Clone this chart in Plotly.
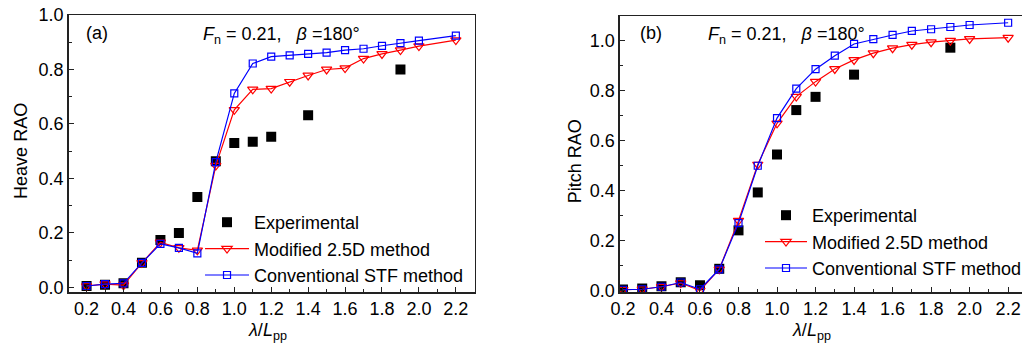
import plotly.graph_objects as go

W, H = 1027, 343

# ---------------- data ----------------
x_exp = [0.2, 0.3, 0.4, 0.5, 0.6, 0.7, 0.8, 0.9, 1.0, 1.1, 1.2, 1.4, 1.9]
heave_exp = [0.005, 0.01, 0.015, 0.09, 0.174, 0.20, 0.332, 0.463, 0.53, 0.535, 0.553, 0.632, 0.80]
pitch_exp = [0.004, 0.008, 0.017, 0.033, 0.021, 0.087, 0.241, 0.393, 0.545, 0.723, 0.776, 0.865, 0.973]

x_calc = [0.2, 0.3, 0.4, 0.5, 0.6, 0.7, 0.8, 0.9, 1.0, 1.1, 1.2, 1.3, 1.4, 1.5, 1.6, 1.7, 1.8, 1.9, 2.0, 2.2]
heave_mod = [0.005, 0.012, 0.008, 0.09, 0.165, 0.145, 0.136, 0.447, 0.652, 0.727, 0.73, 0.755, 0.778,
             0.80, 0.805, 0.84, 0.857, 0.871, 0.886, 0.908]
heave_stf = [0.005, 0.012, 0.015, 0.09, 0.16, 0.145, 0.125, 0.46, 0.712, 0.822, 0.847, 0.852, 0.857,
             0.862, 0.871, 0.876, 0.887, 0.897, 0.906, 0.924]
pitch_mod = [0.003, 0.005, 0.015, 0.03, 0.0, 0.085, 0.28, 0.505, 0.67, 0.777, 0.837, 0.888, 0.924,
             0.951, 0.971, 0.985, 0.995, 1.001, 1.008, 1.013]
pitch_stf = [0.003, 0.005, 0.015, 0.032, 0.005, 0.085, 0.27, 0.50, 0.691, 0.809, 0.887, 0.941, 0.988,
             1.007, 1.024, 1.04, 1.047, 1.056, 1.064, 1.073]

names = ["Experimental", "Modified 2.5D method", "Conventional STF method"]
x_ticks = [0.2, 0.4, 0.6, 0.8, 1.0, 1.2, 1.4, 1.6, 1.8, 2.0, 2.2]
y_ticks = [0.0, 0.2, 0.4, 0.6, 0.8, 1.0]

FONT = "Liberation Sans, Arial, sans-serif"
FS = 18
RED = "#FF0000"
BLUE = "#0000FF"

fig = go.Figure()


def add_panel(xa, ya, leg, exp, mod, stf):
    fig.add_trace(go.Scatter(x=x_exp, y=exp, mode="markers", name=names[0],
                             marker=dict(symbol="square", size=10, color="black"),
                             xaxis=xa, yaxis=ya, legend=leg))
    fig.add_trace(go.Scatter(x=x_calc, y=mod, mode="lines+markers", name=names[1],
                             line=dict(color=RED, width=1.2),
                             marker=dict(symbol="triangle-down-open", size=9, color=RED,
                                         line=dict(width=1.2, color=RED)),
                             xaxis=xa, yaxis=ya, legend=leg))
    fig.add_trace(go.Scatter(x=x_calc, y=stf, mode="lines+markers", name=names[2],
                             line=dict(color=BLUE, width=1.2),
                             marker=dict(symbol="square-open", size=7, color=BLUE,
                                         line=dict(width=1.2, color=BLUE)),
                             xaxis=xa, yaxis=ya, legend=leg))


add_panel("x", "y", "legend", heave_exp, heave_mod, heave_stf)
add_panel("x2", "y2", "legend2", pitch_exp, pitch_mod, pitch_stf)


def px_x(p):
    return p / W


def px_y(p):
    return 1 - p / H


axis_common = dict(
    showgrid=False, zeroline=False, showline=True, linecolor="#222", linewidth=1.5,
    ticks="inside", ticklen=5, tickwidth=1, tickcolor="#222",
    tickfont=dict(family=FONT, size=FS, color="black"),
    minor=dict(ticks="inside", ticklen=3, tickwidth=1, tickcolor="#222", dtick=0.1),
)

fig.update_layout(
    width=W, height=H,
    margin=dict(l=0, r=0, t=0, b=0),
    paper_bgcolor="white", plot_bgcolor="white",
    showlegend=True, hovermode=False,
    xaxis=dict(axis_common, domain=[px_x(69), px_x(477)], range=[0.103, 2.302],
               tickvals=x_ticks, ticktext=[f"{v:.1f}" for v in x_ticks], mirror=True,
               anchor="y", automargin=False),
    yaxis=dict(axis_common, domain=[px_y(292), px_y(15)], range=[-0.017, 1.0],
               tickvals=y_ticks, ticktext=[f"{v:.1f}" for v in y_ticks], mirror=True,
               anchor="x", automargin=False),
    xaxis2=dict(axis_common, domain=[px_x(623), 1.0], range=[0.1845, 2.272],
                tickvals=x_ticks, ticktext=[f"{v:.1f}" for v in x_ticks], mirror=True,
                anchor="y2", automargin=False),
    yaxis2=dict(axis_common, domain=[px_y(292), px_y(16)], range=[-0.006, 1.1],
                tickvals=y_ticks, ticktext=[f"{v:.1f}" for v in y_ticks], mirror=False,
                anchor="x2", automargin=False),
    legend=dict(x=px_x(201), y=px_y(204), xanchor="left", yanchor="top",
                bgcolor="rgba(0,0,0,0)", itemwidth=44, tracegroupgap=0,
                font=dict(family=FONT, size=FS, color="black")),
    legend2=dict(x=px_x(764), y=px_y(197), xanchor="left", yanchor="top",
                 bgcolor="rgba(0,0,0,0)", itemwidth=42, tracegroupgap=0,
                 font=dict(family=FONT, size=FS, color="black")),
)

cond = "<i>F</i><sub>n</sub> = 0.21,\u00a0\u00a0\u00a0<i>β</i> =180°"
xtitle = "<i>λ</i>/<i>L</i><sub>pp</sub>"
ann_font = dict(family=FONT, size=FS, color="black")

annotations = [
    dict(text="(a)", x=px_x(84), y=px_y(33), xanchor="left", yanchor="middle"),
    dict(text=cond, x=px_x(202), y=px_y(35), xanchor="left", yanchor="middle"),
    dict(text="(b)", x=px_x(641), y=px_y(33), xanchor="left", yanchor="middle"),
    dict(text=cond, x=px_x(709), y=px_y(35), xanchor="left", yanchor="middle"),
    dict(text="Heave RAO", x=px_x(21), y=px_y(151), textangle=-90, xanchor="center", yanchor="middle"),
    dict(text="Pitch RAO", x=px_x(578), y=px_y(161), textangle=-90, xanchor="center", yanchor="middle"),
    dict(text=xtitle, x=px_x(269), y=px_y(331), xanchor="center", yanchor="middle"),
    dict(text=xtitle, x=px_x(815), y=px_y(331), xanchor="center", yanchor="middle"),
]
for a in annotations:
    a.update(xref="paper", yref="paper", showarrow=False, font=ann_font)
fig.update_layout(annotations=annotations)

fig.write_html("out.html",
               config={"displayModeBar": False, "staticPlot": True},
               post_script="document.body.style.margin='0';document.body.style.overflow='hidden';")
